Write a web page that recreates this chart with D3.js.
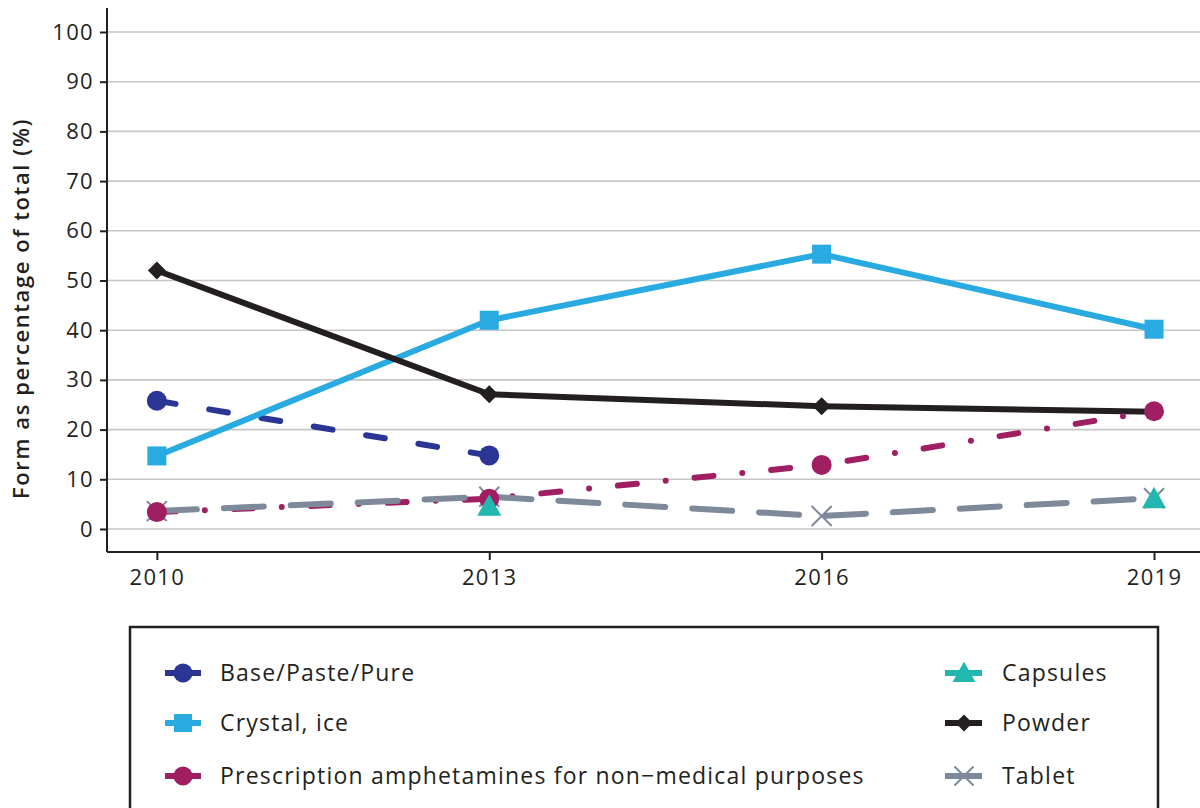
<!DOCTYPE html>
<html>
<head>
<meta charset="utf-8">
<script src="https://cdn.jsdelivr.net/npm/d3@7"></script>
<style>
  html, body { margin: 0; padding: 0; background: #ffffff; }
  svg { display: block; }
  text { font-family: "Open Sans", "Noto Sans", sans-serif; fill: #231F20; }
</style>
</head>
<body>
<svg id="chart" width="1200" height="808"></svg>
<script>
// ---------- data ----------
const years = [2010, 2013, 2016, 2019];
const yTicks = [0, 10, 20, 30, 40, 50, 60, 70, 80, 90, 100];
const seriesNames = ["Base/Paste/Pure", "Capsules", "Crystal, ice", "Powder",
  "Prescription amphetamines for non\u2212medical purposes", "Tablet"];
const basePaste = [25.8, 14.8, null, null];
const capsules = [null, 4.6, null, 6.1];
const crystalIce = [14.7, 42.0, 55.3, 40.2];
const powder = [52.0, 27.1, 24.7, 23.6];
const prescription = [3.4, 6.1, 12.9, 23.7];
const tablet = [3.6, 6.5, 2.6, 6.2];
const yTitle = "Form as percentage of total (%)";

// ---------- styles ----------
const styles = [
  { values: basePaste, color: "#2B3593", dash: "19,34", width: 6, shape: "circle", line: true },
  { values: capsules, color: "#22B8AF", dash: null, width: 6, shape: "triangle", line: false },
  { values: crystalIce, color: "#29ABE2", dash: null, width: 6, shape: "square", line: true },
  { values: powder, color: "#231F20", dash: null, width: 6, shape: "diamond", line: true },
  { values: prescription, color: "#A01F63", dash: "19,29,0,29", width: 6, shape: "circle", line: true },
  { values: tablet, color: "#7E899A", dash: "40,27", width: 6, shape: "cross", line: true }
];

const svg = d3.select("#chart");
const x = d3.scaleLinear().domain([2009.55, 2019.415]).range([107, 1200]);
const y = d3.scaleLinear().domain([-4.63, 104.83]).range([552, 8]);

// gridlines
svg.append("g").selectAll("line").data(yTicks).join("line")
  .attr("x1", 107).attr("x2", 1200)
  .attr("y1", d => y(d)).attr("y2", d => y(d))
  .attr("stroke", "#C6C6C6").attr("stroke-width", 1.6);

// axes
const yAxis = svg.append("g").attr("transform", "translate(107,0)")
  .call(d3.axisLeft(y).tickValues(yTicks).tickSize(7).tickPadding(6));
const xAxis = svg.append("g").attr("transform", "translate(0,552)")
  .call(d3.axisBottom(x).tickValues(years).tickFormat(d3.format("d")).tickSize(8).tickPadding(9));
[yAxis, xAxis].forEach(g => {
  g.select(".domain").attr("stroke", "#231F20").attr("stroke-width", 2);
  g.selectAll(".tick line").attr("stroke", "#231F20").attr("stroke-width", 2);
  g.selectAll(".tick text").style("font-size", "22px").attr("fill", "#231F20")
    .style("font-family", "\"Open Sans\", sans-serif").style("letter-spacing", "1.3px");
});
xAxis.select(".domain").attr("d", "M107,0H1200");
yAxis.select(".domain").attr("d", "M0,8V552");

// y title
svg.append("text")
  .attr("transform", "translate(29," + ((y(0) + y(100)) / 2 + 28) + ") rotate(-90)")
  .attr("text-anchor", "middle")
  .style("font-size", "22px").style("font-weight", "600").style("letter-spacing", "1.6px")
  .text(yTitle);

// symbol generator
function drawMarker(g, shape, cx, cy, color, scale) {
  const s = scale || 1;
  if (shape === "circle") {
    g.append("circle").attr("cx", cx).attr("cy", cy).attr("r", 10 * s).attr("fill", color);
  } else if (shape === "square") {
    const h = 9.5 * s;
    g.append("rect").attr("x", cx - h).attr("y", cy - h).attr("width", 2 * h).attr("height", 2 * h).attr("fill", color);
  } else if (shape === "diamond") {
    const h = 9 * s;
    g.append("path").attr("d", `M${cx},${cy - h}L${cx + h},${cy}L${cx},${cy + h}L${cx - h},${cy}Z`).attr("fill", color);
  } else if (shape === "triangle") {
    const h = 12 * s;
    g.append("path").attr("d", `M${cx},${cy - h}L${cx + h},${cy + h * 0.8}L${cx - h},${cy + h * 0.8}Z`).attr("fill", color);
  } else if (shape === "cross") {
    const h = 10 * s;
    g.append("path").attr("d", `M${cx - h},${cy - h}L${cx + h},${cy + h}M${cx - h},${cy + h}L${cx + h},${cy - h}`)
      .attr("stroke", color).attr("stroke-width", 2).attr("fill", "none");
  }
}

// lines
const lineGen = d3.line().defined(d => d.v !== null).x(d => x(d.year)).y(d => y(d.v));
const linesG = svg.append("g");
styles.forEach(st => {
  if (!st.line) return;
  const pts = years.map((yr, i) => ({ year: yr, v: st.values[i] }));
  linesG.append("path").datum(pts)
    .attr("d", lineGen)
    .attr("fill", "none")
    .attr("stroke", st.color)
    .attr("stroke-width", st.width)
    .attr("stroke-linecap", st.dash ? "round" : "butt")
    .attr("stroke-linejoin", "round")
    .attr("stroke-dasharray", st.dash);
});

// points (drawing order chosen to match overlaps)
const pointOrder = [5, 0, 2, 3, 4, 1];
const ptsG = svg.append("g");
pointOrder.forEach(idx => {
  const st = styles[idx];
  years.forEach((yr, i) => {
    const v = st.values[i];
    if (v === null) return;
    drawMarker(ptsG, st.shape, x(yr), y(v), st.color);
  });
});

// legend
const legG = svg.append("g");
legG.append("rect").attr("x", 130).attr("y", 627).attr("width", 1028).attr("height", 200)
  .attr("fill", "none").attr("stroke", "#231F20").attr("stroke-width", 2.5);
const legCols = [{ x1: 165, x2: 201, mx: 183, tx: 220 }, { x1: 945, x2: 982, mx: 964, tx: 1002 }];
const legRows = [673, 723, 776];
styles.forEach((st, i) => {
  const col = legCols[i % 2];
  const ry = legRows[Math.floor(i / 2)];
  legG.append("line").attr("x1", col.x1).attr("x2", col.x2).attr("y1", ry).attr("y2", ry)
    .attr("stroke", st.color).attr("stroke-width", 6);
  drawMarker(legG, st.shape, col.mx, ry, st.color, 0.95);
  legG.append("text").attr("x", col.tx).attr("y", ry + 8)
    .style("font-size", "23px").style("letter-spacing", "1.2px")
    .text(seriesNames[i]);
});
</script>
</body>
</html>
